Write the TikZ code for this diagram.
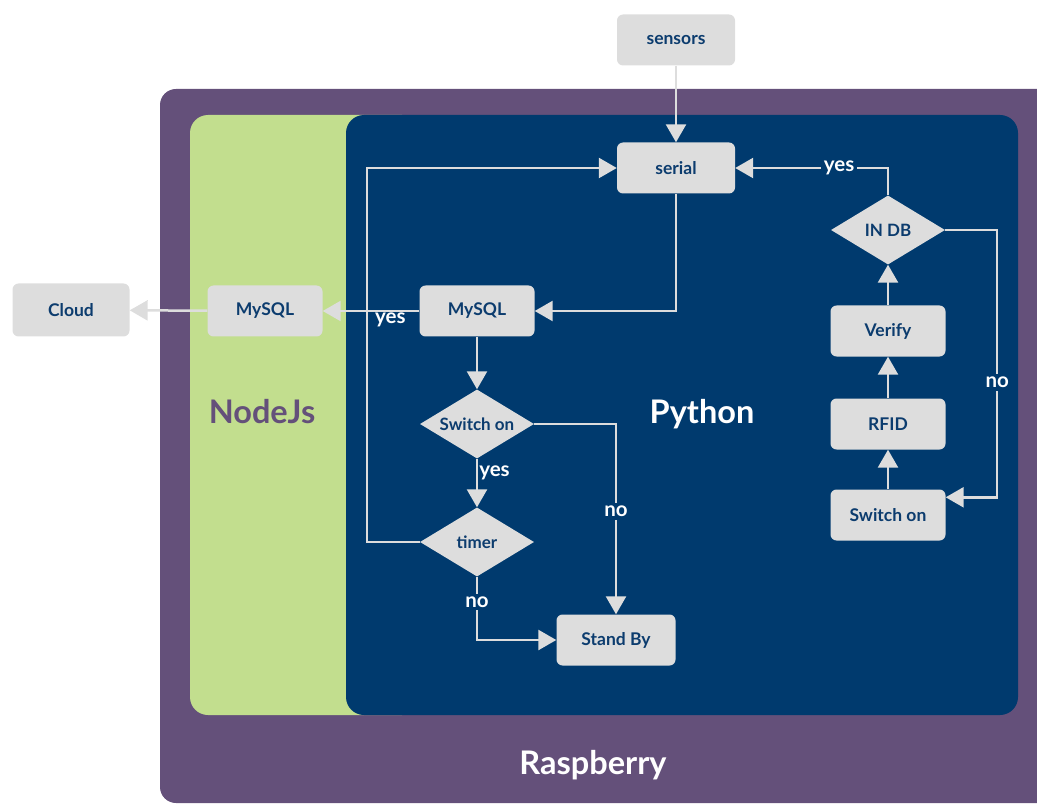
\documentclass[tikz,border=0pt]{standalone}
\usepackage{fontspec}
\setmainfont{Lato}
\usepackage{tikz}
\usetikzlibrary{shapes.geometric, arrows.meta, positioning, calc}
\definecolor{raspPurple}{RGB}{100, 80, 122}
\definecolor{nodeGreen}{RGB}{194, 222, 142}
\definecolor{pyBlue}{RGB}{0, 58, 110}
\definecolor{boxGray}{RGB}{221, 221, 221}
\definecolor{textBlue}{RGB}{12, 60, 110}

\begin{document}
\begin{tikzpicture}[x=1pt, y=-1pt,
      box/.style={rectangle, fill=boxGray, rounded corners=6pt, minimum width=116pt, minimum height=51pt, text=textBlue, font=\fontsize{17.5}{19}\selectfont\bfseries},
      decision/.style={diamond, fill=boxGray, aspect=1.65, inner sep=0pt, minimum width=114pt, minimum height=69pt, text=textBlue, font=\fontsize{17}{19}\selectfont\bfseries},
      line/.style={draw=boxGray, line width=2.5pt, -{Triangle[length=18pt, width=20pt]}},
      tag/.style={text=white, font=\fontsize{20.5}{22}\selectfont\bfseries, inner sep=3pt},
      title/.style={font=\fontsize{32.5}{36}\selectfont\bfseries}]

      \useasboundingbox (0,0) rectangle (1037,805);

      % containers
      \fill[raspPurple, rounded corners=16pt] (160,89) rectangle (1060,803);
      \fill[nodeGreen, rounded corners=18pt] (190,115) rectangle (420,715);
      \fill[pyBlue, rounded corners=18pt] (346,115) rectangle (1018,715);

      \node[title, text=raspPurple] (nodejs) at (262,412) {NodeJs};
      \node[title, text=white] (python) at (702,414) {Python};
      \node[title, text=white] (raspberry) at (593,765) {Raspberry};

      % boxes
      \node[box, minimum width=118pt] (sensors) at (676,40) {sensors};
      \node[box, minimum width=118pt] (serial) at (676,168) {serial};
      \node[box, minimum width=117pt, minimum height=53pt] (cloud) at (71,310) {Cloud};
      \node[box, minimum width=115pt] (jsmysql) at (265,311) {MySQL};
      \node[box, minimum width=115pt] (pymysql) at (477,311) {MySQL};
      \node[decision] (switchon) at (477,424) {Switch on};
      \node[decision] (timer) at (477,542) {timer};
      \node[box, minimum width=119pt] (standby) at (616,640) {Stand By};

      \node[decision] (indb) at (888,230) {IN DB};
      \node[box, minimum width=115pt] (verify) at (888,331) {Verify};
      \node[box, minimum width=115pt] (rfid) at (888,424) {RFID};
      \node[box, minimum width=115pt] (rfidon) at (888,515) {Switch on};

      % connectors
      \draw[line] (sensors) -- (serial);
      \draw[line] (serial.south) |- (pymysql.east);
      \draw[line] (pymysql) -- node[tag, pos=0.3, below, inner sep=1pt] {yes} (jsmysql);
      \draw[line] (jsmysql) -- (cloud);
      \draw[line] (pymysql) -- (switchon);
      \draw[line] (switchon) -- node[tag, pos=0.3, right, inner sep=1pt] {yes} (timer);
      \draw[line] (switchon.east) -| node[tag, pos=0.73, fill=pyBlue] {no} (standby.north);
      \draw[line] (timer.west) -- ++(-53,0) |- (serial.west);
      \draw[line] (timer.south) |- node[tag, pos=0.2, fill=pyBlue] {no} (standby.west);

      \draw[line] (rfidon) -- (rfid);
      \draw[line] (rfid) -- (verify);
      \draw[line] (verify) -- (indb);
      \draw[line] (indb.north) |- node[tag, pos=0.66, fill=pyBlue] {yes} (serial.east);
      \draw[line] (indb.east) -- ++(52,0) |- node[tag, pos=0.285, fill=pyBlue] {no} ([yshift=-8pt]rfidon.north east);
  \end{tikzpicture}
\end{document}
